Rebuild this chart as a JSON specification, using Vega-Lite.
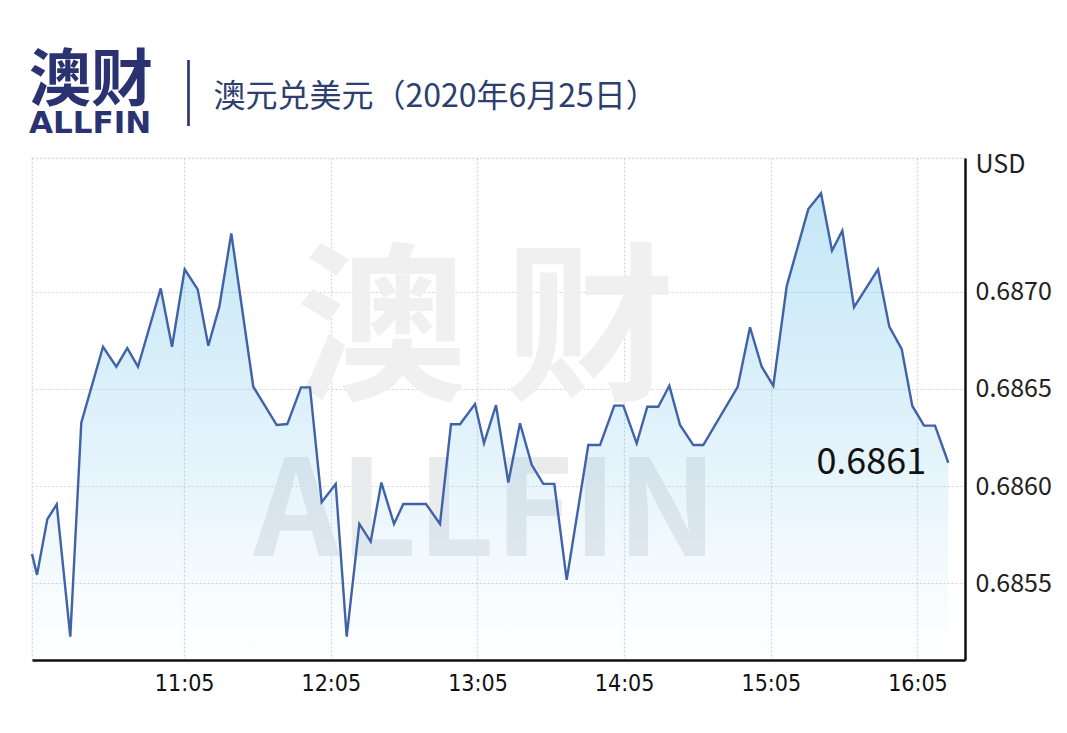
{
  "$schema": "https://vega.github.io/schema/vega-lite/v6.json",
  "width": 933,
  "height": 502,
  "autosize": {"type": "none"},
  "padding": {"left": 32, "top": 158, "right": 102, "bottom": 73},
  "background": "#ffffff",
  "config": {"view": {"stroke": "#d3d3d3", "strokeDash": [2, 2], "strokeWidth": 1.2}},
  "title": {
    "text": "澳财",
    "subtitle": "ALLFIN",
    "anchor": "start",
    "frame": "group",
    "font": "Noto Sans CJK SC",
    "fontSize": 62,
    "fontWeight": "bold",
    "color": "#2b3271",
    "subtitleFont": "DejaVu Sans",
    "subtitleFontSize": 31,
    "subtitleFontWeight": "bold",
    "subtitleColor": "#2b3271",
    "subtitlePadding": -5,
    "dx": -3,
    "offset": -76
  },
  "data": {
    "format": {"parse": {"t": "date"}},
    "values": [
      {"t": "2020-06-25T10:02:45", "v": 0.685651},
      {"t": "2020-06-25T10:04:48", "v": 0.685543},
      {"t": "2020-06-25T10:09:01", "v": 0.685829},
      {"t": "2020-06-25T10:12:52", "v": 0.685906},
      {"t": "2020-06-25T10:18:25", "v": 0.685225},
      {"t": "2020-06-25T10:22:55", "v": 0.686326},
      {"t": "2020-06-25T10:31:48", "v": 0.686717},
      {"t": "2020-06-25T10:37:15", "v": 0.686614},
      {"t": "2020-06-25T10:41:44", "v": 0.686710},
      {"t": "2020-06-25T10:46:07", "v": 0.686614},
      {"t": "2020-06-25T10:55:25", "v": 0.687017},
      {"t": "2020-06-25T11:00:02", "v": 0.686717},
      {"t": "2020-06-25T11:05:13", "v": 0.687115},
      {"t": "2020-06-25T11:10:32", "v": 0.687012},
      {"t": "2020-06-25T11:14:53", "v": 0.686722},
      {"t": "2020-06-25T11:19:23", "v": 0.686923},
      {"t": "2020-06-25T11:24:17", "v": 0.687300},
      {"t": "2020-06-25T11:33:17", "v": 0.686511},
      {"t": "2020-06-25T11:42:52", "v": 0.686314},
      {"t": "2020-06-25T11:47:12", "v": 0.686319},
      {"t": "2020-06-25T11:52:48", "v": 0.686508},
      {"t": "2020-06-25T11:56:29", "v": 0.686508},
      {"t": "2020-06-25T12:01:16", "v": 0.685917},
      {"t": "2020-06-25T12:07:00", "v": 0.686011},
      {"t": "2020-06-25T12:11:30", "v": 0.685225},
      {"t": "2020-06-25T12:16:40", "v": 0.685805},
      {"t": "2020-06-25T12:21:19", "v": 0.685714},
      {"t": "2020-06-25T12:25:40", "v": 0.686018},
      {"t": "2020-06-25T12:30:51", "v": 0.685805},
      {"t": "2020-06-25T12:34:40", "v": 0.685908},
      {"t": "2020-06-25T12:43:56", "v": 0.685908},
      {"t": "2020-06-25T12:49:40", "v": 0.685805},
      {"t": "2020-06-25T12:54:10", "v": 0.686318},
      {"t": "2020-06-25T12:57:51", "v": 0.686318},
      {"t": "2020-06-25T13:03:59", "v": 0.686422},
      {"t": "2020-06-25T13:07:40", "v": 0.686220},
      {"t": "2020-06-25T13:12:35", "v": 0.686416},
      {"t": "2020-06-25T13:17:37", "v": 0.686018},
      {"t": "2020-06-25T13:22:24", "v": 0.686323},
      {"t": "2020-06-25T13:27:11", "v": 0.686109},
      {"t": "2020-06-25T13:31:56", "v": 0.686011},
      {"t": "2020-06-25T13:36:26", "v": 0.686011},
      {"t": "2020-06-25T13:41:30", "v": 0.685517},
      {"t": "2020-06-25T13:50:20", "v": 0.686211},
      {"t": "2020-06-25T13:55:08", "v": 0.686211},
      {"t": "2020-06-25T14:00:59", "v": 0.686414},
      {"t": "2020-06-25T14:04:40", "v": 0.686414},
      {"t": "2020-06-25T14:10:08", "v": 0.686220},
      {"t": "2020-06-25T14:14:29", "v": 0.686408},
      {"t": "2020-06-25T14:18:59", "v": 0.686408},
      {"t": "2020-06-25T14:23:29", "v": 0.686516},
      {"t": "2020-06-25T14:27:52", "v": 0.686314},
      {"t": "2020-06-25T14:33:18", "v": 0.686211},
      {"t": "2020-06-25T14:37:23", "v": 0.686211},
      {"t": "2020-06-25T14:51:28", "v": 0.686511},
      {"t": "2020-06-25T14:56:30", "v": 0.686817},
      {"t": "2020-06-25T15:01:17", "v": 0.686614},
      {"t": "2020-06-25T15:06:02", "v": 0.686516},
      {"t": "2020-06-25T15:11:31", "v": 0.687029},
      {"t": "2020-06-25T15:20:21", "v": 0.687425},
      {"t": "2020-06-25T15:25:33", "v": 0.687506},
      {"t": "2020-06-25T15:30:03", "v": 0.687211},
      {"t": "2020-06-25T15:34:16", "v": 0.687314},
      {"t": "2020-06-25T15:39:03", "v": 0.686920},
      {"t": "2020-06-25T15:48:52", "v": 0.687115},
      {"t": "2020-06-25T15:53:29", "v": 0.686820},
      {"t": "2020-06-25T15:58:34", "v": 0.686704},
      {"t": "2020-06-25T16:02:54", "v": 0.686412},
      {"t": "2020-06-25T16:07:41", "v": 0.686311},
      {"t": "2020-06-25T16:12:11", "v": 0.686311},
      {"t": "2020-06-25T16:17:37", "v": 0.686120}
    ]
  },
  "layer": [
    {
      "layer": [
        {
          "mark": {
            "type": "area",
            "line": false,
            "color": {
              "gradient": "linear",
              "x1": 0, "y1": 0, "x2": 0, "y2": 1,
              "stops": [
                {"offset": 0, "color": "rgba(100,190,235,0.38)"},
                {"offset": 0.5, "color": "rgba(100,190,235,0.2)"},
                {"offset": 1, "color": "rgba(100,190,235,0.0)"}
              ]
            }
          },
          "encoding": {
            "x": {
              "field": "t",
              "type": "temporal",
              "scale": {
                "domain": [
                  {"year": 2020, "month": 6, "date": 25, "hours": 10, "minutes": 2, "seconds": 45},
                  {"year": 2020, "month": 6, "date": 25, "hours": 16, "minutes": 24, "seconds": 27}
                ],
                "nice": false
              },
              "axis": {
                "orient": "bottom",
                "values": [
                  {"year": 2020, "month": 6, "date": 25, "hours": 11, "minutes": 5},
                  {"year": 2020, "month": 6, "date": 25, "hours": 12, "minutes": 5},
                  {"year": 2020, "month": 6, "date": 25, "hours": 13, "minutes": 5},
                  {"year": 2020, "month": 6, "date": 25, "hours": 14, "minutes": 5},
                  {"year": 2020, "month": 6, "date": 25, "hours": 15, "minutes": 5},
                  {"year": 2020, "month": 6, "date": 25, "hours": 16, "minutes": 5}
                ],
                "format": "%H:%M",
                "labelFont": "DejaVu Sans Condensed, sans-serif",
                "labelFontSize": 23,
                "labelColor": "#111111",
                "labelPadding": 12,
                "labelFlush": false,
                "labelOverlap": false,
                "ticks": false,
                "tickSize": 0,
                "domain": true,
                "domainColor": "#111111",
                "domainWidth": 2.5,
                "grid": true,
                "gridColor": "#d3d3d3",
                "gridDash": [2, 2],
                "gridWidth": 1.2,
                "title": "ALLFIN",
                "titleFont": "Noto Sans CJK SC",
                "titleFontWeight": "bold",
                "titleFontSize": 134,
                "titleColor": "#eaebec",
                "titleAlign": "center",
                "titleBaseline": "alphabetic",
                "titleAngle": 0,
                "titleX": 453,
                "titleY": -105
              }
            },
            "y": {
              "field": "v",
              "type": "quantitative",
              "scale": {"domain": [0.685105, 0.687688], "nice": false, "zero": false},
              "axis": {
                "orient": "right",
                "values": [0.6855, 0.686, 0.6865, 0.687],
                "format": ".4f",
                "labelFont": "Noto Sans CJK SC",
                "labelFontSize": 25,
                "labelColor": "#222222",
                "labelPadding": 10,
                "ticks": false,
                "tickSize": 0,
                "domain": true,
                "domainColor": "#111111",
                "domainWidth": 2.5,
                "grid": true,
                "gridColor": "#d3d3d3",
                "gridDash": [2, 2],
                "gridWidth": 1.2,
                "title": "USD",
                "titleFont": "Noto Sans CJK SC",
                "titleFontSize": 25,
                "titleFontWeight": "normal",
                "titleColor": "#222222",
                "titleAngle": 0,
                "titleAlign": "left",
                "titleBaseline": "alphabetic",
                "titleX": 10,
                "titleY": 14
              }
            },
            "y2": {"datum": 0.685105}
          }
        },
        {
          "mark": {"type": "line", "color": "#4062a8", "strokeWidth": 2.4, "strokeJoin": "miter"},
          "encoding": {
            "x": {"field": "t", "type": "temporal"},
            "y": {"field": "v", "type": "quantitative"}
          }
        },
        {
          "transform": [
            {"window": [{"op": "row_number", "as": "rn"}], "sort": [{"field": "t", "order": "descending"}]},
            {"filter": "datum.rn == 1"}
          ],
          "mark": {
            "type": "text",
            "align": "right",
            "baseline": "alphabetic",
            "dx": -22,
            "dy": 11,
            "font": "Noto Sans CJK SC",
            "fontSize": 36,
            "color": "#111111"
          },
          "encoding": {
            "x": {"field": "t", "type": "temporal"},
            "y": {"field": "v", "type": "quantitative"},
            "text": {"field": "v", "type": "quantitative", "format": ".4f"}
          }
        }
      ]
    },
    {
      "mark": {"type": "point", "opacity": 0},
      "encoding": {
        "x": {
          "field": "v",
          "type": "quantitative",
          "scale": {"domain": [0, 1], "nice": false, "zero": false},
          "axis": {
            "orient": "top",
            "values": [0.1672],
            "labelExpr": "'│'",
            "labelFont": "Noto Sans CJK SC",
            "labelFontSize": 66,
            "labelColor": "#2b3271",
            "labelPadding": 27,
            "labelBound": false,
            "labelFlush": false,
            "labelOverlap": false,
            "ticks": false,
            "tickSize": 0,
            "domain": false,
            "grid": false,
            "title": "澳元兑美元（2020年6月25日）",
            "titleFont": "Noto Sans CJK SC",
            "titleFontSize": 32,
            "titleFontWeight": "normal",
            "titleColor": "#2e3f6f",
            "titleAlign": "left",
            "titleBaseline": "alphabetic",
            "titleAngle": 0,
            "titleX": 181,
            "titleY": -52
          }
        },
        "y": {
          "field": "v",
          "type": "quantitative",
          "scale": {"domain": [0.685105, 0.687688], "nice": false, "zero": false},
          "axis": {
            "orient": "left",
            "labels": false,
            "ticks": false,
            "domain": false,
            "grid": false,
            "title": "澳 财",
            "titleFont": "Noto Sans CJK SC",
            "titleFontWeight": "bold",
            "titleFontSize": 170,
            "titleColor": "#f0f0f0",
            "titleAngle": 0,
            "titleAlign": "center",
            "titleBaseline": "alphabetic",
            "titleX": 453,
            "titleY": 228
          }
        }
      }
    }
  ],
  "resolve": {
    "scale": {"x": "independent", "y": "independent"},
    "axis": {"x": "independent", "y": "independent"}
  }
}
